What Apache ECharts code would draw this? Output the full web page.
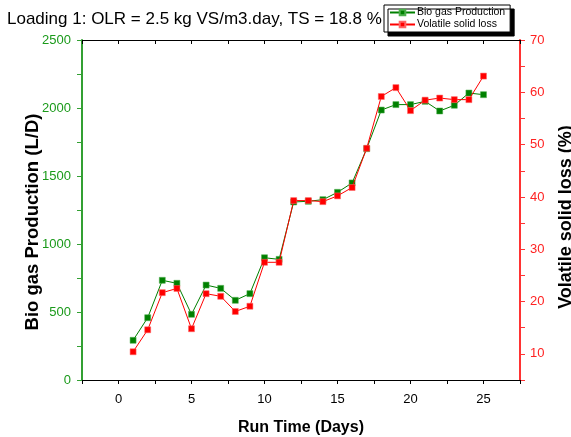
<!DOCTYPE html>
<html><head><meta charset="utf-8">
<script src="https://cdn.jsdelivr.net/npm/echarts@6/dist/echarts.min.js"></script>
<style>html,body{margin:0;padding:0;background:#fff}#c{width:571px;height:437px}</style>
</head><body><div id="c"></div>
<script>
const days = [1,2,3,4,5,6,7,8,9,10,11,12,13,14,15,16,17,18,19,20,21,22,23,24,25];
const biogas = [292,458,733,711,483,698,674,586,635,899,887,1309,1314,1326,1380,1449,1701,1985,2025,2025,2049,1978,2020,2110,2098];
const vsLoss = [10.4,14.6,21.7,22.5,14.8,21.5,21.0,18.1,19.1,27.5,27.5,39.3,39.3,39.1,40.2,41.8,49.3,59.2,60.9,56.5,58.5,58.9,58.6,58.6,63.1];
const titleText = 'Loading 1: OLR = 2.5 kg VS/m3.day, TS = 18.8 %';
const FONT = 'Liberation Sans, Arial, sans-serif';
const GREEN = '#008000', RED = '#ff0000';

const chart = echarts.init(document.getElementById('c'), null, {renderer:'canvas'});
chart.setOption({
  animation:false,
  backgroundColor:'#fff',
  textStyle:{fontFamily:FONT},
  title:{text:titleText,left:7,top:11,padding:0,textStyle:{fontFamily:FONT,fontSize:17,fontWeight:'normal',color:'#000'}},
  legend:{
    left:384, top:5, orient:'vertical', padding:[2,5,2,5], itemGap:1,
    itemWidth:25, itemHeight:7,
    backgroundColor:'#fff', borderColor:'#000', borderWidth:1,
    shadowColor:'#000', shadowOffsetX:4, shadowOffsetY:4, shadowBlur:0,
    textStyle:{fontFamily:FONT,fontSize:10.5,color:'#000',padding:[0,0,0,-3]},
    data:['Bio gas Production','Volatile solid loss']
  },
  grid:{left:82,right:51,top:40,bottom:57,containLabel:false,outerBoundsMode:'none'},
  xAxis:[{
    type:'value', position:'bottom', min:-2.5, max:27.5, interval:2.5,
    name:'Run Time (Days)', nameLocation:'middle', nameGap:40,
    nameTextStyle:{fontFamily:FONT,fontSize:16,fontWeight:'bold',color:'#000'},
    axisLine:{onZero:false,lineStyle:{color:'#000',width:1}},
    axisTick:{show:true,inside:false,length:4,lineStyle:{color:'#000'}},
    axisLabel:{fontFamily:FONT,fontSize:13,color:'#000',margin:13,
      formatter:v=> (Math.abs(v%5)<1e-9 ? String(v) : '')},
    splitLine:{show:false}
  },{
    type:'value', position:'top', min:-2.5, max:27.5, interval:2.5,
    axisLine:{onZero:false,lineStyle:{color:'#000',width:1}},
    axisTick:{show:true,inside:true,length:4,lineStyle:{color:'#000'}},
    axisLabel:{show:false}, splitLine:{show:false}
  }],
  yAxis:[{
    type:'value', position:'left', min:0, max:2500, interval:250,
    name:'Bio gas Production (L/D)', nameLocation:'middle', nameGap:40, nameRotate:90,
    nameMoveOverlap:false,
    nameTextStyle:{fontFamily:FONT,fontSize:18.5,fontWeight:'bold',color:'#000',padding:[0,24,0,0]},
    axisLine:{show:true,onZero:false,lineStyle:{color:'#33a033',width:2}},
    axisTick:{show:true,inside:false,length:5,lineStyle:{color:'#33a033'}},
    axisLabel:{fontFamily:FONT,fontSize:13,color:'#1a9a1a',margin:11,
      formatter:v=> (v%500===0 ? String(v) : '')},
    splitLine:{show:false}
  },{
    type:'value', position:'right', min:5, max:70, interval:5,
    name:'Volatile solid loss (%)', nameLocation:'middle', nameGap:37, nameRotate:90,
    nameTextStyle:{fontFamily:FONT,fontSize:18,fontWeight:'bold',color:'#000',padding:[0,14,0,0]},
    axisLine:{show:true,onZero:false,lineStyle:{color:'#ff3333',width:2}},
    axisTick:{show:true,inside:false,length:5,lineStyle:{color:'#ff3333'}},
    axisLabel:{fontFamily:FONT,fontSize:13,color:'#ff2222',margin:10,
      formatter:v=> (v%10===0 ? String(v) : '')},
    splitLine:{show:false}
  }],
  series:[{
    name:'Bio gas Production', type:'line', xAxisIndex:0, yAxisIndex:0,
    data:days.map((d,i)=>[d,biogas[i]]),
    symbol:'rect', symbolSize:6, showSymbol:true,
    lineStyle:{color:GREEN,width:1}, itemStyle:{color:GREEN,borderColor:'#4caf4c',borderWidth:0.5},
    z:3
  },{
    name:'Volatile solid loss', type:'line', xAxisIndex:0, yAxisIndex:1,
    data:days.map((d,i)=>[d,vsLoss[i]]),
    symbol:'rect', symbolSize:6, showSymbol:true,
    lineStyle:{color:RED,width:1}, itemStyle:{color:RED,borderColor:'#ff6666',borderWidth:0.5},
    z:4
  }]
});
</script></body></html>
